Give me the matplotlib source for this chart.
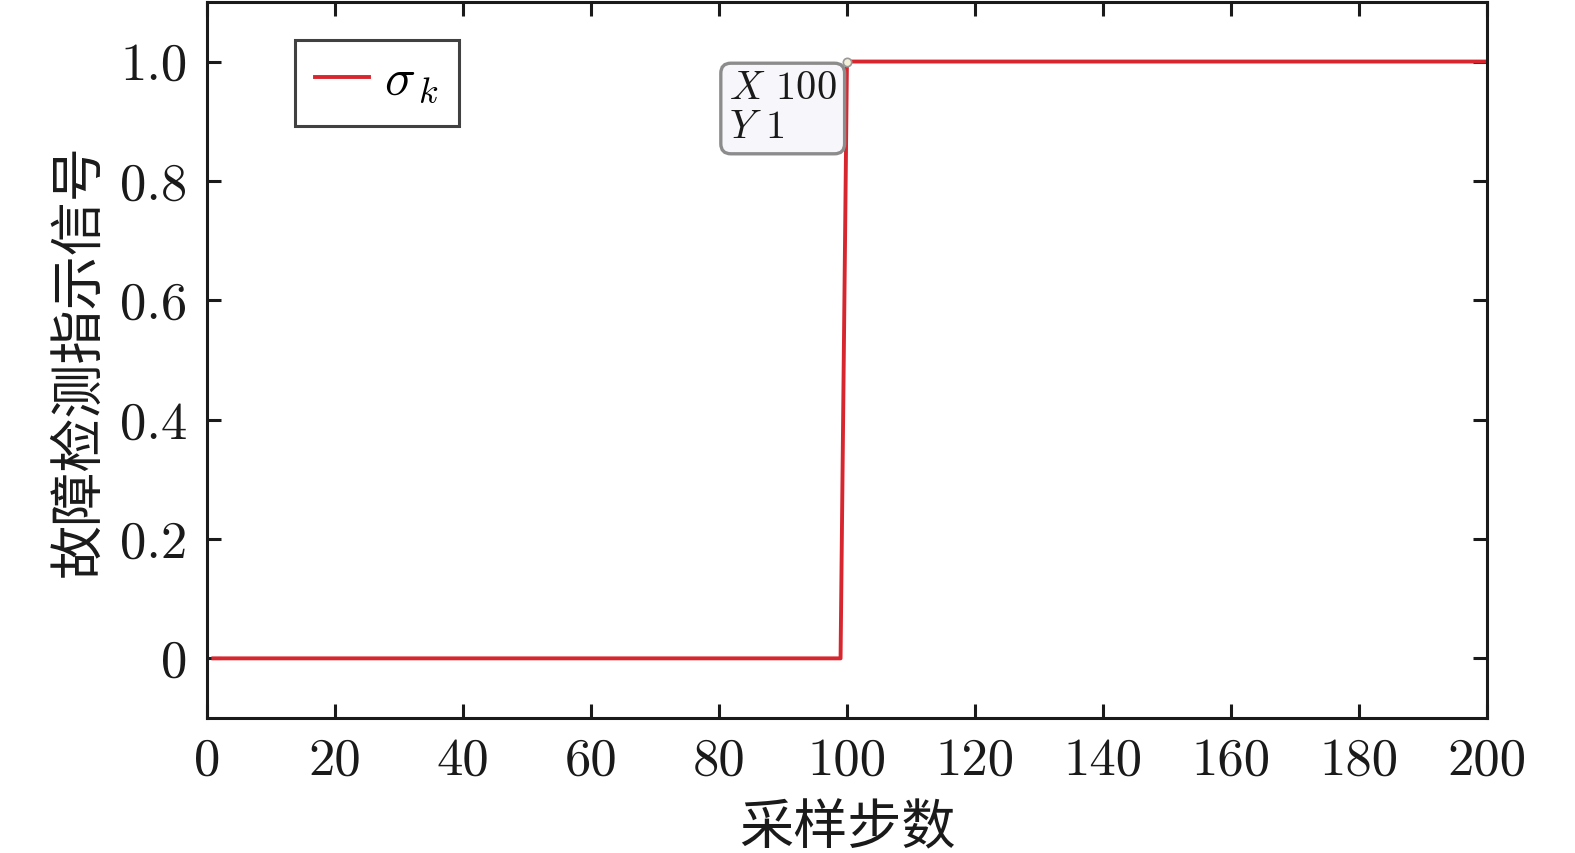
import matplotlib
matplotlib.use("Agg")
import matplotlib.pyplot as plt
import numpy as np

# fault detection indicator signal, sampled at k = 1..200
steps = np.arange(1, 201)
fault_start = 100
sigma = np.where(steps >= fault_start, 1.0, 0.0)

xticks = [0, 20, 40, 60, 80, 100, 120, 140, 160, 180, 200]
yticks = [0, 0.2, 0.4, 0.6, 0.8, 1.0]
ytick_labels = ['0', '0.2', '0.4', '0.6', '0.8', '1.0']

plt.rcParams['font.family'] = ['cmr10', 'Noto Sans CJK SC', 'DejaVu Sans']
plt.rcParams['mathtext.fontset'] = 'cm'
plt.rcParams['axes.unicode_minus'] = False

fig = plt.figure(figsize=(15.75, 8.531), dpi=100)
ax = fig.add_axes([0.1314, 0.1582, 0.8127, 0.8395])

red = '#d8262f'
ax.plot(steps, sigma, color=red, lw=2.8, label=r'$\sigma_{\,k}$')

ax.set_xlim(0, 200)
ax.set_ylim(-0.1, 1.1)
ax.set_xticks(xticks)
ax.set_xticklabels([str(t) for t in xticks])
ax.set_yticks(yticks)
ax.set_yticklabels(ytick_labels)
ax.tick_params(direction='in', length=10, width=2.2, labelsize=38,
               top=True, right=True, pad=14, colors='#1a1a1a')
for s in ax.spines.values():
    s.set_linewidth(2.2)
    s.set_color('#1a1a1a')

ax.set_xlabel('采样步数', fontsize=39, labelpad=12, color='#1a1a1a',
              family=['Noto Sans CJK SC'])
ax.set_ylabel('故障检测指示信号', fontsize=39, labelpad=10, color='#1a1a1a',
              family=['Noto Sans CJK SC'])

leg = ax.legend(loc='upper left', bbox_to_anchor=(0.069, 0.947), fontsize=37,
                frameon=True, fancybox=False, handlelength=1.05, handletextpad=0.3,
                borderpad=0.38, borderaxespad=0)
leg.get_frame().set_edgecolor('#111111')
leg.get_frame().set_linewidth(2.2)

# data tip at the step
ax.plot([fault_start], [1.0], 'o', ms=6, mfc='#f3f0d8', mec='#999999', mew=1.2, zorder=5)
ax.annotate('$X$ 100\n$Y$ 1', xy=(fault_start, 1.0), xytext=(-7.5, -7),
            textcoords='offset points', ha='right', va='top', fontsize=29,
            multialignment='left', linespacing=1.1, color='#1a1a1a',
            bbox=dict(boxstyle='round,pad=0.2,rounding_size=0.25',
                      fc='#f7f7fb', ec='#8c8c8c', lw=2.4), zorder=6)

fig.savefig('out.png', dpi=100)
